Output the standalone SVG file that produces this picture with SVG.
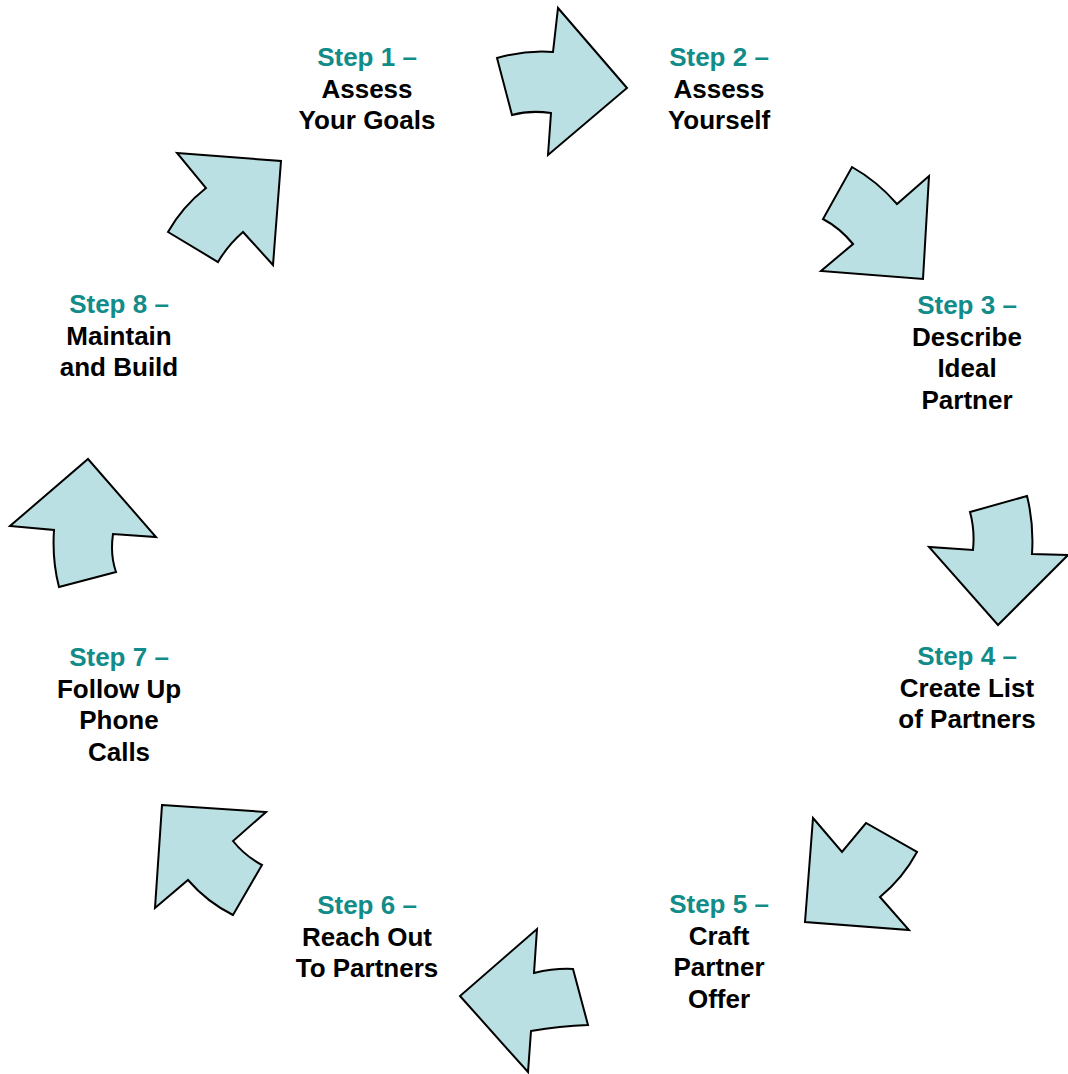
<svg xmlns="http://www.w3.org/2000/svg" width="1068" height="1074" viewBox="0 0 1068 1074">
  <style>
    .arrow { fill: #BAE0E3; stroke: #000; stroke-width: 2; stroke-linejoin: miter; }
    .lbl { font-family: "Liberation Sans", Arial, sans-serif; font-size: 26px; font-weight: bold; text-anchor: middle; fill: #000; }
    .step { fill: #128C88; }
  </style>
  <rect width="1068" height="1074" fill="#fff"/>

  <!-- curved block arrows running clockwise round the cycle -->
  <g id="connectors">
    <path id="arrow-1-2" class="arrow" d="M497,58 Q525,50 553,52 L558,8 L627,88 L548,155 L551,113 Q530,110 512,115 Z"/>
    <path id="arrow-2-3" class="arrow" d="M852,167 Q877,181 897,204 L929,176 L923,279 L821,271 L853,244 Q840,228 823,219 Z"/>
    <path id="arrow-3-4" class="arrow" d="M970,512 L1027,496 Q1034,524 1032,554 L1068,555 L998,625 L929,547 L973,550 Q975,530 970,512 Z"/>
    <path id="arrow-4-5" class="arrow" d="M813,818 L842,852 L866,823 L917,852 Q903,878 880,897 L909,930 L805,922 Z"/>
    <path id="arrow-5-6" class="arrow" d="M537,929 L534,973 Q555,968 573,969 L588,1025 Q560,1026 531,1031 L528,1072 L460,996 Z"/>
    <path id="arrow-6-7" class="arrow" d="M162,805 L266,812 L233,841 Q245,856 262,865 L233,915 Q207,902 188,880 L155,908 Z"/>
    <path id="arrow-7-8" class="arrow" d="M88,459 L156,537 L113,534 Q110,555 116,572 L59,587 Q52,560 54,530 L10,526 Z"/>
    <path id="arrow-8-1" class="arrow" d="M177,153 L281,161 L273,265 L243,232 Q228,245 218,262 L168,232 Q182,207 206,188 Z"/>
  </g>

  <g id="step-1">
    <text class="lbl" x="367" y="66"><tspan class="step">Step 1 –</tspan><tspan x="367" dy="31.5">Assess</tspan><tspan x="367" dy="31.5">Your Goals</tspan></text>
  </g>
  <g id="step-2">
    <text class="lbl" x="719" y="66"><tspan class="step">Step 2 –</tspan><tspan x="719" dy="31.5">Assess</tspan><tspan x="719" dy="31.5">Yourself</tspan></text>
  </g>
  <g id="step-3">
    <text class="lbl" x="967" y="314"><tspan class="step">Step 3 –</tspan><tspan x="967" dy="31.5">Describe</tspan><tspan x="967" dy="31.5">Ideal</tspan><tspan x="967" dy="31.5">Partner</tspan></text>
  </g>
  <g id="step-4">
    <text class="lbl" x="967" y="665"><tspan class="step">Step 4 –</tspan><tspan x="967" dy="31.5">Create List</tspan><tspan x="967" dy="31.5">of Partners</tspan></text>
  </g>
  <g id="step-5">
    <text class="lbl" x="719" y="913"><tspan class="step">Step 5 –</tspan><tspan x="719" dy="31.5">Craft</tspan><tspan x="719" dy="31.5">Partner</tspan><tspan x="719" dy="31.5">Offer</tspan></text>
  </g>
  <g id="step-6">
    <text class="lbl" x="367" y="914"><tspan class="step">Step 6 –</tspan><tspan x="367" dy="31.5">Reach Out</tspan><tspan x="367" dy="31.5">To Partners</tspan></text>
  </g>
  <g id="step-7">
    <text class="lbl" x="119" y="666"><tspan class="step">Step 7 –</tspan><tspan x="119" dy="31.5">Follow Up</tspan><tspan x="119" dy="31.5">Phone</tspan><tspan x="119" dy="31.5">Calls</tspan></text>
  </g>
  <g id="step-8">
    <text class="lbl" x="119" y="313"><tspan class="step">Step 8 –</tspan><tspan x="119" dy="31.5">Maintain</tspan><tspan x="119" dy="31.5">and Build</tspan></text>
  </g>
</svg>
